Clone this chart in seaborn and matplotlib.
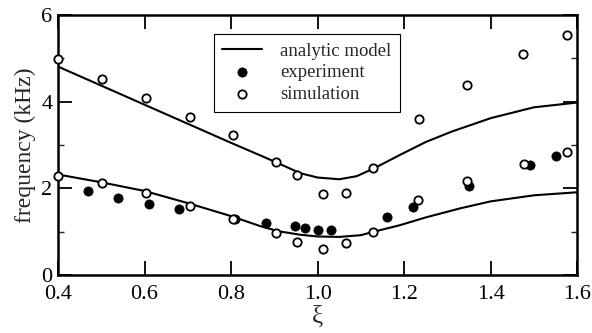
import numpy as np
import pandas as pd
import matplotlib
matplotlib.use('Agg')
import matplotlib.pyplot as plt
import seaborn as sns
from matplotlib.ticker import MultipleLocator

# analytic model (two branches)
model_x = [0.4, 0.5, 0.6, 0.7, 0.8, 0.87, 0.92, 0.96, 1.0, 1.05, 1.09, 1.13,
           1.19, 1.25, 1.31, 1.4, 1.5, 1.6]
model_hi = [4.81, 4.37, 3.93, 3.49, 3.05, 2.75, 2.53, 2.35, 2.25, 2.21, 2.28, 2.46,
            2.77, 3.07, 3.31, 3.62, 3.87, 3.98]
model_lo_x = [0.4, 0.5, 0.6, 0.7, 0.8, 0.87, 0.91, 0.96, 1.0, 1.05, 1.1, 1.13,
              1.19, 1.25, 1.33, 1.4, 1.5, 1.6]
model_lo = [2.32, 2.14, 1.94, 1.66, 1.36, 1.12, 1.01, 0.93, 0.89, 0.88, 0.92, 1.0,
            1.15, 1.33, 1.54, 1.70, 1.84, 1.91]

# simulation
sim_x_hi = [0.4, 0.502, 0.603, 0.704, 0.804, 0.904, 0.953, 1.013, 1.066, 1.128,
            1.235, 1.345, 1.475, 1.577]
sim_hi = [4.98, 4.52, 4.08, 3.64, 3.22, 2.60, 2.31, 1.86, 1.90, 2.46,
          3.61, 4.39, 5.11, 5.54]
sim_x_lo = [0.4, 0.502, 0.603, 0.704, 0.804, 0.904, 0.953, 1.013, 1.066, 1.128,
            1.233, 1.345, 1.476, 1.577]
sim_lo = [2.28, 2.12, 1.90, 1.59, 1.29, 0.98, 0.77, 0.59, 0.73, 1.0,
          1.73, 2.17, 2.57, 2.85]

# experiment
exp_x = [0.470, 0.539, 0.611, 0.680, 0.810, 0.880, 0.948, 0.971, 1.002, 1.030,
         1.160, 1.220, 1.351, 1.490, 1.551]
exp_y = [1.95, 1.78, 1.64, 1.52, 1.29, 1.19, 1.13, 1.09, 1.05, 1.05,
         1.35, 1.56, 2.05, 2.54, 2.75]

sns.set_style('ticks')
plt.rcParams['font.family'] = ['Liberation Serif', 'DejaVu Serif']

fig = plt.figure(figsize=(5.92, 3.33), dpi=100)
ax = fig.add_axes([0.098, 0.174, 0.877, 0.781])

sns.lineplot(x=model_x, y=model_hi, color='black', lw=1.5, ax=ax,
             label='analytic model', sort=False)
sns.lineplot(x=model_lo_x, y=model_lo, color='black', lw=1.5, ax=ax, sort=False)

sns.scatterplot(x=exp_x, y=exp_y, color='black', s=44, edgecolor='black',
                ax=ax, label='experiment', clip_on=False, zorder=3)
sim = pd.DataFrame({'x': sim_x_hi + sim_x_lo, 'y': sim_hi + sim_lo})
sns.scatterplot(data=sim, x='x', y='y', facecolor='white', edgecolor='black',
                linewidth=1.3, s=36, ax=ax, label='simulation', clip_on=False, zorder=3)

ax.set_xlim(0.4, 1.6)
ax.set_ylim(0, 6)
ax.xaxis.set_major_locator(MultipleLocator(0.2))
ax.yaxis.set_major_locator(MultipleLocator(2))
ax.yaxis.set_minor_locator(MultipleLocator(1))
ax.xaxis.set_major_formatter(matplotlib.ticker.FormatStrFormatter('%.1f'))
ax.tick_params(which='major', direction='in', length=10, width=1.3,
               top=True, right=True, labelsize=16, colors='black')
ax.tick_params(axis='x', which='major', pad=7)
ax.tick_params(axis='y', which='major', pad=4)
ax.tick_params(which='minor', direction='in', length=4, width=1,
               left=True, right=True)
for s in ax.spines.values():
    s.set_linewidth(1.8)
    s.set_color('black')

ax.set_xlabel('ξ', fontsize=18, labelpad=1)
ax.set_ylabel('frequency (kHz)', fontsize=17, labelpad=4)

leg = ax.legend(loc='upper left', bbox_to_anchor=(0.30, 0.927), borderaxespad=0,
                fontsize=13.5, frameon=True, fancybox=False, edgecolor='black',
                framealpha=1, handlelength=2.1, labelspacing=0.25,
                borderpad=0.45, handletextpad=1.0)
leg.get_frame().set_linewidth(0.8)

fig.savefig('out.png', dpi=100)
